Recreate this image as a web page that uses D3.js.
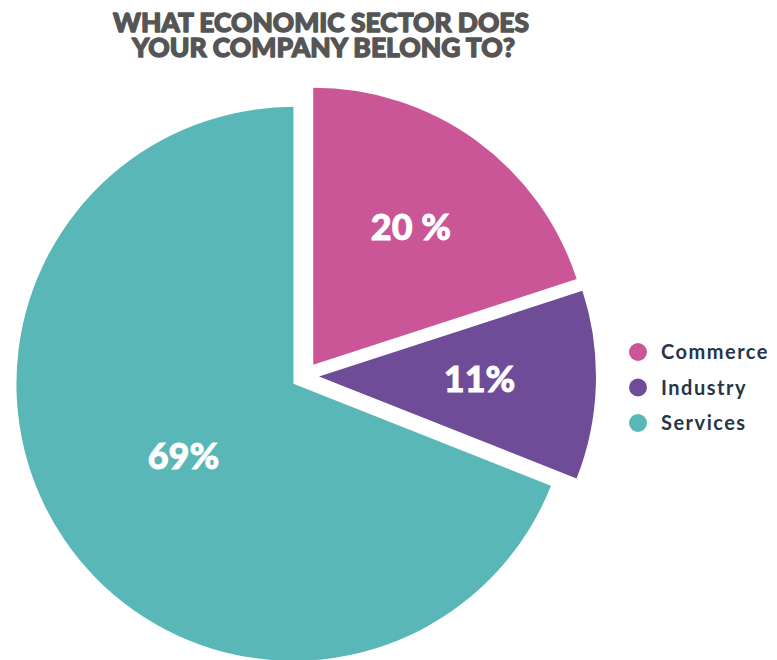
<!DOCTYPE html>
<html>
<head>
<meta charset="utf-8">
<script src="https://cdn.jsdelivr.net/npm/d3@7"></script>
<style>
  html, body { margin: 0; padding: 0; background: #fff; }
  svg { display: block; }
</style>
</head>
<body>
<div id="chart"></div>
<script>
// Survey answers: economic sector of the respondent's company
const sectors = ["Commerce", "Industry", "Services"];
const shares = [20, 11, 69];
const shareLabels = ["20 %", "11%", "69%"];
const colors = ["#CB5697", "#6F4C98", "#5AB7B7"];
const titleLines = ["WHAT ECONOMIC SECTOR DOES", "YOUR COMPANY BELONG TO?"];

const W = 777, H = 660;
const cx = 305, cy = 376, R = 277, explode = 14;
// distance of each value label from its wedge's apex, as a fraction of R
const labelRadius = [0.6, 0.58, 0.48];

const svg = d3.select("#chart").append("svg")
  .attr("width", W).attr("height", H);

// Title, two lines in heavy grey caps
const title = svg.append("g")
  .attr("font-family", "Lato, 'Open Sans', sans-serif")
  .attr("font-weight", 900)
  .attr("font-size", 26)
  .attr("fill", "#555555")
  .attr("stroke", "#555555")
  .attr("stroke-width", 1.3)
  .attr("stroke-linejoin", "round");
title.append("text").attr("x", 113).attr("y", 32)
  .attr("textLength", 416).attr("lengthAdjust", "spacingAndGlyphs")
  .text(titleLines[0]);
title.append("text").attr("x", 132).attr("y", 57)
  .attr("textLength", 383).attr("lengthAdjust", "spacingAndGlyphs")
  .text(titleLines[1]);

// Pie, each wedge pushed out along its bisector
const data = sectors.map((s, i) => ({ sector: s, value: shares[i], label: shareLabels[i], color: colors[i], lr: labelRadius[i] }));
const pie = d3.pie().value(d => d.value).sort(null);
const arcs = pie(data);
const arc = d3.arc().innerRadius(0).outerRadius(R);

const slices = svg.append("g").attr("transform", `translate(${cx},${cy})`)
  .selectAll("g").data(arcs).join("g")
  .attr("transform", d => {
    const a = (d.startAngle + d.endAngle) / 2;
    return `translate(${explode * Math.sin(a)},${-explode * Math.cos(a)})`;
  });

slices.append("path")
  .attr("d", arc)
  .attr("fill", d => d.data.color);

slices.append("text")
  .attr("transform", d => {
    const r = R * d.data.lr;
    const a = (d.startAngle + d.endAngle) / 2;
    return `translate(${r * Math.sin(a)},${-r * Math.cos(a)})`;
  })
  .attr("text-anchor", "middle")
  .attr("dy", "0.28em")
  .attr("font-family", "Lato, 'Open Sans', sans-serif")
  .attr("font-weight", 900)
  .attr("font-size", 36)
  .attr("fill", "#ffffff")
  .attr("stroke", "#ffffff")
  .attr("stroke-width", 0.8)
  .text(d => d.data.label);

// Legend
const legend = svg.append("g").attr("transform", "translate(638,352)")
  .selectAll("g").data(data).join("g")
  .attr("transform", (d, i) => `translate(0,${i * 35.5})`);
legend.append("circle").attr("r", 9).attr("fill", d => d.color);
legend.append("text")
  .attr("x", 23).attr("y", 7)
  .attr("font-family", "Lato, 'Open Sans', sans-serif")
  .attr("font-weight", 700)
  .attr("font-size", 20)
  .attr("letter-spacing", 1.5)
  .attr("fill", "#263648")
  .text(d => d.sector);
</script>
</body>
</html>
